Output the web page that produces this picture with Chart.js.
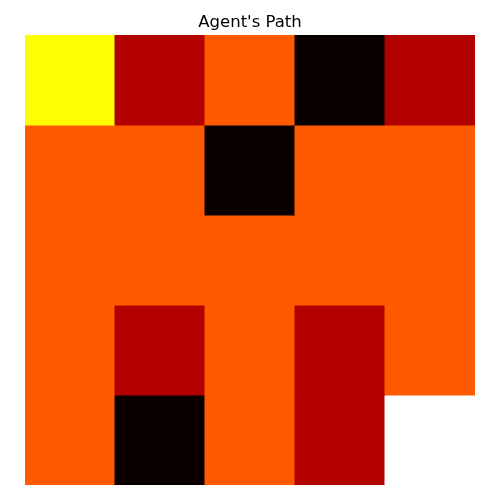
<!DOCTYPE html>
<html><head><meta charset="utf-8">
<script src="https://cdn.jsdelivr.net/npm/chart.js@4"></script>
<style>html,body{margin:0;padding:0;background:#fff}#wrap{width:500px;height:500px}</style>
</head><body><div id="wrap"><canvas id="c" width="500" height="500"></canvas></div>
<script>
const columns = ['0','1','2','3','4'];
const rowLabels = ['0','1','2','3','4'];
const row0 = [3,1,2,0,1];
const row1 = [2,2,0,2,2];
const row2 = [2,2,2,2,2];
const row3 = [2,1,2,1,2];
const row4 = [2,0,2,1,4];
const rows = [row0,row1,row2,row3,row4];
const vmin = 0, vmax = 4;
function hot(v){
  const t = (v - vmin)/(vmax - vmin);
  const cl = x => Math.max(0, Math.min(1, x));
  const r = cl(0.0416 + (1-0.0416)*t/0.365079), g = cl((t-0.365079)/(0.746032-0.365079)), b = cl((t-0.746032)/(1-0.746032));
  return `rgb(${Math.round(r*255)},${Math.round(g*255)},${Math.round(b*255)})`;
}
const datasets = rows.map((row,i)=>({
  label: 'row '+rowLabels[i],
  data: row.map(()=>1),
  backgroundColor: row.map(hot),
  borderWidth: 0,
  inflateAmount: 0.5,
  borderSkipped: false,
  barPercentage: 1,
  categoryPercentage: 1
}));
new Chart(document.getElementById('c'), {
  type: 'bar',
  data: { labels: columns, datasets },
  options: {
    responsive: false,
    animation: false,
    layout: { padding: { left: 25, right: 25, bottom: 15, top: 0 } },
    plugins: {
      legend: { display: false },
      tooltip: { enabled: false },
      title: { display: true, text: "Agent's Path", color: '#000',
        font: { family: 'DejaVu Sans', size: 16.5, weight: 'normal' },
        padding: { top: 13, bottom: 2.2 } }
    },
    scales: {
      x: { stacked: true, display: false, offset: true },
      y: { stacked: true, display: false, min: 0, max: 5, reverse: true }
    }
  }
});
</script></body></html>
